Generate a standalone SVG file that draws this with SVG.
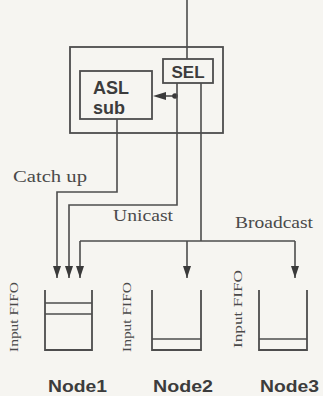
<svg xmlns="http://www.w3.org/2000/svg" width="323" height="396" viewBox="0 0 323 396">
<defs>
<style>
.ln{fill:none;stroke:#4d4d4d;stroke-width:1.6}
.bx{fill:none;stroke:#4d4d4d;stroke-width:1.8}
.sans{font-family:"Liberation Sans",Arial,sans-serif;font-weight:bold;fill:#3c3c3c}
.ser{font-family:"Liberation Serif","Times New Roman",serif;fill:#4a4a4a}
</style>
<marker id="ah" viewBox="0 0 12 8" refX="12" refY="4" markerWidth="12" markerHeight="8" markerUnits="userSpaceOnUse" orient="auto">
<path d="M0,0 L12,4 L0,8 Z" fill="#3a3a3a"/>
</marker>
</defs>
<rect width="323" height="396" fill="#f6f5f1"/>
<g id="outer"><rect class="bx" x="70" y="47" width="153" height="86"/></g>
<g id="sel"><rect class="bx" x="163" y="59" width="50" height="24"/><text class="sans" x="188" y="78" font-size="17" text-anchor="middle">SEL</text></g>
<g id="asl"><rect class="bx" x="80" y="71" width="72" height="48"/><text class="sans" x="93" y="94" font-size="18">ASL</text><text class="sans" x="93" y="114" font-size="18">sub</text></g>
<g id="connectors">
<path class="ln" d="M187,0 V59"/>
<path class="ln" d="M177,96 H165"/>
<path d="M153,96 L166,92 L166,100 Z" fill="#3a3a3a"/>
<circle cx="175" cy="96" r="2.8" fill="#3a3a3a"/>
<path class="ln" d="M117,119 V192 H57 V278" marker-end="url(#ah)"/>
<path class="ln" d="M177,83 V205 H69 V278" marker-end="url(#ah)"/>
<path class="ln" d="M201,83 V241"/>
<path class="ln" d="M80,241 H295"/>
<path class="ln" d="M80,241 V278" marker-end="url(#ah)"/>
<path class="ln" d="M187,241 V278" marker-end="url(#ah)"/>
<path class="ln" d="M295,241 V278" marker-end="url(#ah)"/>
</g>
<g id="labels">
<text class="ser" x="13" y="182" font-size="16" textLength="74" lengthAdjust="spacingAndGlyphs">Catch up</text>
<text class="ser" x="113" y="221" font-size="16" textLength="60" lengthAdjust="spacingAndGlyphs">Unicast</text>
<text class="ser" x="235" y="228" font-size="16" textLength="78" lengthAdjust="spacingAndGlyphs">Broadcast</text>
</g>
<g id="node1">
<path class="bx" d="M45,290 V350 H92 V290"/>
<path class="ln" d="M45,303 H92 M45,314 H92"/>
<text class="ser" transform="translate(18,352) rotate(-90)" font-size="13" textLength="70" lengthAdjust="spacingAndGlyphs">Input FIFO</text>
<text class="sans" x="48" y="392" font-size="16" textLength="59" lengthAdjust="spacingAndGlyphs">Node1</text>
</g>
<g id="node2">
<path class="bx" d="M152,290 V350 H201 V290"/>
<path class="ln" d="M152,339 H201"/>
<text class="ser" transform="translate(131,352) rotate(-90)" font-size="13" textLength="70" lengthAdjust="spacingAndGlyphs">Input FIFO</text>
<text class="sans" x="153" y="392" font-size="16" textLength="60" lengthAdjust="spacingAndGlyphs">Node2</text>
</g>
<g id="node3">
<path class="bx" d="M259,290 V350 H307 V290"/>
<path class="ln" d="M259,339 H307"/>
<text class="ser" transform="translate(242,348) rotate(-90)" font-size="13" textLength="78" lengthAdjust="spacingAndGlyphs">Input FIFO</text>
<text class="sans" x="260" y="392" font-size="16" textLength="59" lengthAdjust="spacingAndGlyphs">Node3</text>
</g>
</svg>
